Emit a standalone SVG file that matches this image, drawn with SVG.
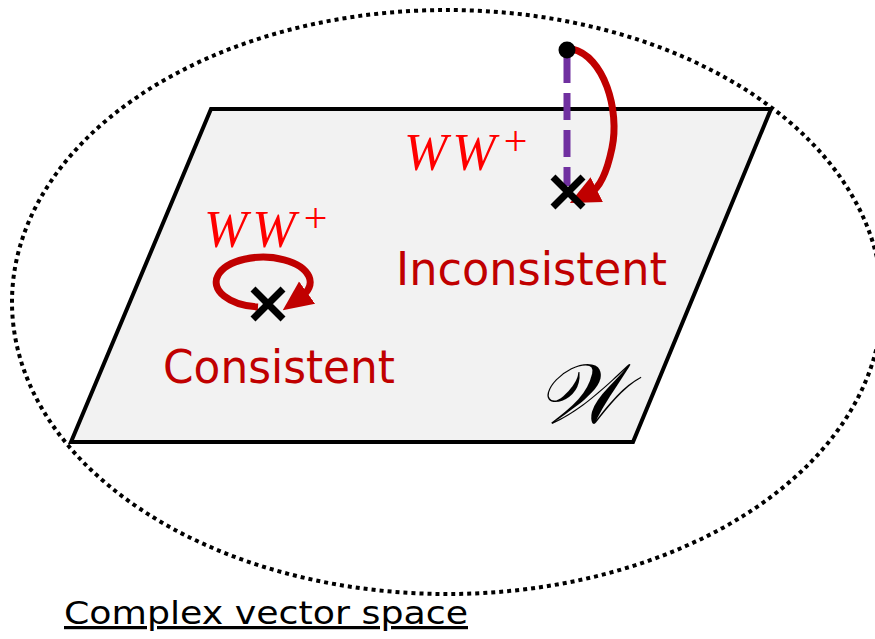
<svg xmlns="http://www.w3.org/2000/svg" width="875" height="639" viewBox="0 0 875 639">
<style>
.lbl{font-family:Tahoma,"DejaVu Sans","Liberation Sans",sans-serif;fill:#c00000}
.ww{font-family:"Liberation Serif","DejaVu Serif",serif;font-style:italic;fill:#ff0000;font-size:52px}
.sup{font-style:normal;font-size:42px}
.xm{stroke:#000;stroke-width:7;stroke-linecap:butt}
.arc{fill:none;stroke:#c00000;stroke-width:7}
</style>
<defs>
<marker id="ah" markerUnits="userSpaceOnUse" markerWidth="30" markerHeight="30" viewBox="0 0 24 22" refX="6" refY="11" orient="auto">
<path d="M0 0 L24 11 L0 22 Z" fill="#c00000"/>
</marker>
</defs>
<g id="space">
<ellipse cx="447" cy="302" rx="435" ry="292" fill="none" stroke="#000" stroke-width="4" stroke-dasharray="4 4"/>
</g>
<g id="plane">
<polygon points="211,109 771,109 633,442 71,442" fill="#f2f2f2" stroke="#000" stroke-width="4" stroke-linejoin="miter"/>
<text x="536" y="423" font-family="'DejaVu Serif','Liberation Serif',serif" font-style="italic" font-size="84">𝒲</text>
</g>
<g id="connectors">
<line x1="567" y1="56" x2="567" y2="186" stroke="#7030a0" stroke-width="7" stroke-dasharray="27 10"/>
<path class="arc" d="M572 49 C604 56 620 110 612 148 C607 172 600 188 590 193" marker-end="url(#ah)"/>
<path class="arc" d="M258 307 A47 25 0 1 1 301 297" marker-end="url(#ah)"/>
</g>
<g id="inconsistent">
<circle cx="567" cy="50" r="8.5" fill="#000"/>
<path class="xm" d="M553 177 L583 207 M583 177 L553 207"/>
<text class="ww" x="404" y="170">W<tspan dx="5">W</tspan><tspan class="sup" dx="8" dy="-15">+</tspan></text>
<text class="lbl" x="396" y="285" font-size="46" textLength="271" lengthAdjust="spacingAndGlyphs">Inconsistent</text>
</g>
<g id="consistent">
<path class="xm" d="M253 289 L283 319 M283 289 L253 319"/>
<text class="ww" x="204" y="247">W<tspan dx="5">W</tspan><tspan class="sup" dx="8" dy="-15">+</tspan></text>
<text class="lbl" x="163" y="383" font-size="46" textLength="232" lengthAdjust="spacingAndGlyphs">Consistent</text>
</g>
<g id="caption">
<text x="64" y="624" font-family="Tahoma,'DejaVu Sans','Liberation Sans',sans-serif" font-size="32" fill="#000" text-decoration="underline" textLength="404" lengthAdjust="spacingAndGlyphs">Complex vector space</text>
</g>
</svg>
